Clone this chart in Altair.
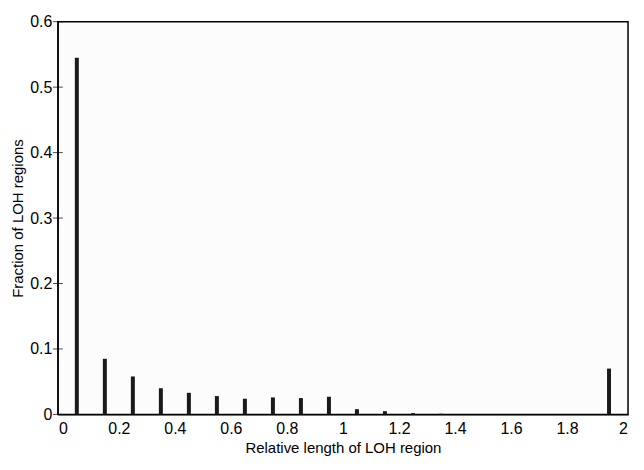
import pandas as pd
import altair as alt

centers = [0.05, 0.15, 0.25, 0.35, 0.45, 0.55, 0.65, 0.75, 0.85, 0.95,
           1.05, 1.15, 1.25, 1.35, 1.95]
fractions = [0.545, 0.085, 0.058, 0.040, 0.033, 0.028, 0.024, 0.026, 0.025, 0.027,
             0.008, 0.005, 0.002, 0.001, 0.070]
x_ticks = [0, 0.2, 0.4, 0.6, 0.8, 1, 1.2, 1.4, 1.6, 1.8, 2]
y_ticks = [0, 0.1, 0.2, 0.3, 0.4, 0.5, 0.6]

df = pd.DataFrame({'x': centers, 'frac': fractions})
xt = pd.DataFrame({'x': x_ticks})
yt = pd.DataFrame({'y': y_ticks})

xscale = alt.Scale(domain=[0, 2], nice=False)
yscale = alt.Scale(domain=[0, 0.6], nice=False)

bars = alt.Chart(df).mark_bar(color='#1a1a1a', size=4).encode(
    x=alt.X('x:Q', title='Relative length of LOH region', scale=xscale,
            axis=alt.Axis(values=x_ticks, format='~g', ticks=False, grid=False)),
    y=alt.Y('frac:Q', title='Fraction of LOH regions', scale=yscale,
            axis=alt.Axis(values=y_ticks, format='~g', ticks=False, grid=False)),
)

# inward ticks
xtick = alt.Chart(xt).mark_tick(color='black', orient='vertical', size=10, thickness=1).encode(
    x='x:Q', y=alt.value(9999))
ytick = alt.Chart(yt).mark_tick(color='black', orient='horizontal', size=10, thickness=1).encode(
    y='y:Q', x=alt.value(0))

chart = (bars + ytick).properties(
    width=630, height=450,
    autosize=alt.AutoSizeParams(type='fit', contains='padding'),
    padding={'left': 2, 'top': 5, 'right': 8, 'bottom': 2}
).configure_view(
    stroke='black', strokeWidth=1.5, fill='#fcfcfc'
).configure_axis(
    labelFont='Liberation Sans', titleFont='Liberation Sans',
    labelFontSize=16, titleFontSize=15, titleFontWeight='normal',
    labelColor='black', titleColor='black', domainColor='black',
    labelPadding=6, titlePadding=4
)

chart.save("out.html", embed_options={"renderer": "svg", "actions": False})
